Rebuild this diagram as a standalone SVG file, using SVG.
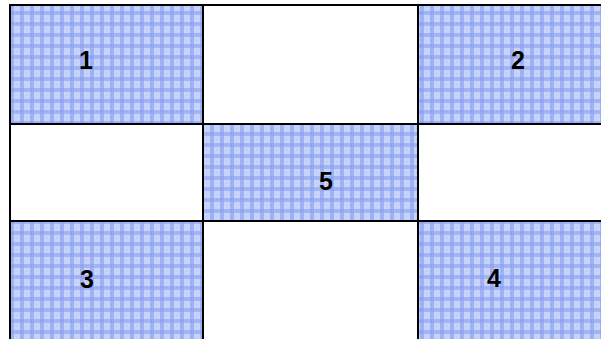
<svg xmlns="http://www.w3.org/2000/svg" width="601" height="339" viewBox="0 0 601 339">
<style>
.cell{stroke:#000;stroke-width:2}
.fill{fill:url(#check)}
.blank{fill:#fff}
.lbl{font-family:"Liberation Sans",Arial,sans-serif;font-weight:bold;font-size:25px;fill:#000;text-anchor:middle}
</style>
<defs>
<pattern id="check" patternUnits="userSpaceOnUse" width="10" height="11">
<rect width="10" height="11" fill="#abbcf6"/>
<rect x="0" y="0" width="4" height="11" fill="#9fb2f4"/>
<rect x="0" y="0" width="10" height="4" fill="#a3b5f5"/>
<rect x="0" y="0" width="4" height="4" fill="#93a8f1"/>
<rect x="4" y="4" width="6" height="7" fill="#c6d4fb"/>
<rect x="1" y="1" width="1" height="1" fill="#7f97ed"/>
<rect x="6" y="1" width="1" height="1" fill="#93a8f1"/>
<rect x="1" y="7" width="1" height="1" fill="#93a8f1"/>
<rect x="6" y="7" width="1" height="1" fill="#b3c4f8"/>
</pattern>
</defs>
<rect width="601" height="339" fill="#fff"/>
<g id="cell-1"><rect class="cell fill" x="10" y="5" width="193" height="119"/><text class="lbl" x="86" y="69">1</text></g>
<g id="cell-top-mid"><rect class="cell blank" x="203" y="5" width="215" height="119"/></g>
<g id="cell-2"><rect class="cell fill" x="418" y="5" width="184" height="119"/><text class="lbl" x="518" y="69">2</text></g>
<g id="cell-mid-left"><rect class="cell blank" x="10" y="124" width="193" height="97"/></g>
<g id="cell-5"><rect class="cell fill" x="203" y="124" width="215" height="97"/><text class="lbl" x="326" y="190">5</text></g>
<g id="cell-mid-right"><rect class="cell blank" x="418" y="124" width="184" height="97"/></g>
<g id="cell-3"><rect class="cell fill" x="10" y="221" width="193" height="119"/><text class="lbl" x="87" y="288">3</text></g>
<g id="cell-bot-mid"><rect class="cell blank" x="203" y="221" width="215" height="119"/></g>
<g id="cell-4"><rect class="cell fill" x="418" y="221" width="184" height="119"/><text class="lbl" x="494" y="287">4</text></g>
<g id="connectors"></g>
</svg>
